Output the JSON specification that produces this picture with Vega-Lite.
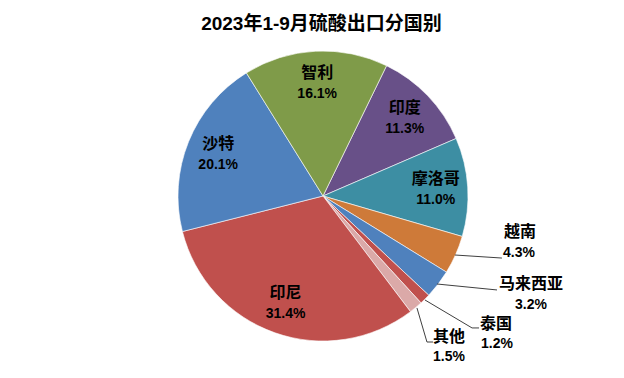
{
  "$schema": "https://vega.github.io/schema/vega-lite/v6.json",
  "width": 624,
  "height": 378,
  "autosize": {"type": "none"},
  "padding": 0,
  "background": "#ffffff",
  "title": {"text": "2023年1-9月硫酸出口分国别", "font": "Liberation Sans, Noto Sans CJK SC", "fontSize": 19, "fontWeight": "bold", "color": "#000000", "anchor": "middle", "frame": "group", "offset": 0, "baseline": "alphabetic", "dx": 9.5, "dy": 49},
  "data": {"values": [
    {"country": "印度", "share": 0.113},
    {"country": "摩洛哥", "share": 0.110},
    {"country": "越南", "share": 0.043},
    {"country": "马来西亚", "share": 0.032},
    {"country": "泰国", "share": 0.012},
    {"country": "其他", "share": 0.015},
    {"country": "印尼", "share": 0.314},
    {"country": "沙特", "share": 0.201},
    {"country": "智利", "share": 0.161}
  ]},
  "transform": [{"window": [{"op": "row_number", "as": "idx"}]}],
  "config": {"view": {"stroke": null}, "axis": {"disable": true}, "legend": {"disable": true}},
  "layer": [
    {
      "mark": {"type": "arc", "outerRadius": 145, "stroke": "#ffffff", "strokeWidth": 0.6},
      "encoding": {
        "theta": {"field": "share", "type": "quantitative", "stack": true, "scale": {"range": [0.4538, 6.737]}},
        "order": {"field": "idx", "type": "quantitative"},
        "color": {"field": "country", "type": "nominal", "legend": null,
          "scale": {"domain": ["印度","摩洛哥","越南","马来西亚","泰国","其他","印尼","沙特","智利"],
                    "range": ["#685088","#3D8EA3","#CE7A39","#4F81BD","#C0504D","#DBA9A8","#C0504D","#4F81BD","#7F9B49"]}},
        "x": {"datum": 0, "type": "quantitative", "axis": null, "scale": {"domain": [-2.22759, 2.07586], "nice": false, "zero": false}},
        "y": {"datum": 0, "type": "quantitative", "axis": null, "scale": {"domain": [-1.25517, 1.35172], "nice": false, "zero": false}}
      }
    },
    {
      "mark": {"type": "text", "radius": 113, "dy": -10, "font": "Noto Sans CJK SC", "fontSize": 16, "fontWeight": "bold", "color": "#000000"},
      "encoding": {
        "theta": {"field": "share", "type": "quantitative", "stack": true},
        "order": {"field": "idx", "type": "quantitative"},
        "detail": {"field": "country", "type": "nominal"},
        "x": {"datum": 0, "type": "quantitative"},
        "y": {"datum": 0, "type": "quantitative"},
        "text": {"field": "country", "type": "nominal"},
        "opacity": {"condition": {"test": "datum.share < 0.05", "value": 0}, "value": 1}
      }
    },
    {
      "mark": {"type": "text", "radius": 113, "dy": 11, "font": "Liberation Sans", "fontSize": 14, "fontWeight": "bold", "color": "#000000"},
      "encoding": {
        "theta": {"field": "share", "type": "quantitative", "stack": true},
        "order": {"field": "idx", "type": "quantitative"},
        "detail": {"field": "country", "type": "nominal"},
        "x": {"datum": 0, "type": "quantitative"},
        "y": {"datum": 0, "type": "quantitative"},
        "text": {"field": "share", "type": "quantitative", "format": ".1%"},
        "opacity": {"condition": {"test": "datum.share < 0.05", "value": 0}, "value": 1}
      }
    },
    {
      "transform": [{"filter": "datum.country === '越南'"}],
      "mark": {"type": "text", "font": "Noto Sans CJK SC", "fontSize": 16, "fontWeight": "bold", "color": "#000000"},
      "encoding": {"x": {"datum": 1.359, "type": "quantitative"}, "y": {"datum": -0.248, "type": "quantitative"}, "text": {"field": "country", "type": "nominal"}}
    },
    {
      "transform": [{"filter": "datum.country === '越南'"}],
      "mark": {"type": "text", "font": "Liberation Sans", "fontSize": 14, "fontWeight": "bold", "color": "#000000"},
      "encoding": {"x": {"datum": 1.352, "type": "quantitative"}, "y": {"datum": -0.393, "type": "quantitative"}, "text": {"field": "share", "type": "quantitative", "format": ".1%"}}
    },
    {
      "transform": [{"filter": "datum.country === '马来西亚'"}],
      "mark": {"type": "text", "font": "Noto Sans CJK SC", "fontSize": 16, "fontWeight": "bold", "color": "#000000"},
      "encoding": {"x": {"datum": 1.434, "type": "quantitative"}, "y": {"datum": -0.607, "type": "quantitative"}, "text": {"field": "country", "type": "nominal"}}
    },
    {
      "transform": [{"filter": "datum.country === '马来西亚'"}],
      "mark": {"type": "text", "font": "Liberation Sans", "fontSize": 14, "fontWeight": "bold", "color": "#000000"},
      "encoding": {"x": {"datum": 1.434, "type": "quantitative"}, "y": {"datum": -0.752, "type": "quantitative"}, "text": {"field": "share", "type": "quantitative", "format": ".1%"}}
    },
    {
      "transform": [{"filter": "datum.country === '泰国'"}],
      "mark": {"type": "text", "font": "Noto Sans CJK SC", "fontSize": 16, "fontWeight": "bold", "color": "#000000"},
      "encoding": {"x": {"datum": 1.193, "type": "quantitative"}, "y": {"datum": -0.883, "type": "quantitative"}, "text": {"field": "country", "type": "nominal"}}
    },
    {
      "transform": [{"filter": "datum.country === '泰国'"}],
      "mark": {"type": "text", "font": "Liberation Sans", "fontSize": 14, "fontWeight": "bold", "color": "#000000"},
      "encoding": {"x": {"datum": 1.2, "type": "quantitative"}, "y": {"datum": -1.021, "type": "quantitative"}, "text": {"field": "share", "type": "quantitative", "format": ".1%"}}
    },
    {
      "transform": [{"filter": "datum.country === '其他'"}],
      "mark": {"type": "text", "font": "Noto Sans CJK SC", "fontSize": 16, "fontWeight": "bold", "color": "#000000"},
      "encoding": {"x": {"datum": 0.869, "type": "quantitative"}, "y": {"datum": -0.972, "type": "quantitative"}, "text": {"field": "country", "type": "nominal"}}
    },
    {
      "transform": [{"filter": "datum.country === '其他'"}],
      "mark": {"type": "text", "font": "Liberation Sans", "fontSize": 14, "fontWeight": "bold", "color": "#000000"},
      "encoding": {"x": {"datum": 0.869, "type": "quantitative"}, "y": {"datum": -1.11, "type": "quantitative"}, "text": {"field": "share", "type": "quantitative", "format": ".1%"}}
    },
    {
      "transform": [{"filter": "datum.country === '越南'"}],
      "mark": {"type": "rule", "color": "#404040", "strokeWidth": 1},
      "encoding": {"x": {"datum": 0.91, "type": "quantitative"}, "y": {"datum": -0.407, "type": "quantitative"}, "x2": {"datum": 1.234}, "y2": {"datum": -0.428}}
    },
    {
      "transform": [{"filter": "datum.country === '马来西亚'"}],
      "mark": {"type": "rule", "color": "#404040", "strokeWidth": 1},
      "encoding": {"x": {"datum": 0.786, "type": "quantitative"}, "y": {"datum": -0.607, "type": "quantitative"}, "x2": {"datum": 1.2}, "y2": {"datum": -0.648}}
    },
    {
      "transform": [{"filter": "datum.country === '泰国'"}],
      "mark": {"type": "rule", "color": "#404040", "strokeWidth": 1},
      "encoding": {"x": {"datum": 0.703, "type": "quantitative"}, "y": {"datum": -0.717, "type": "quantitative"}, "x2": {"datum": 1.028}, "y2": {"datum": -0.91}}
    },
    {
      "transform": [{"filter": "datum.country === '泰国'"}],
      "mark": {"type": "rule", "color": "#404040", "strokeWidth": 1},
      "encoding": {"x": {"datum": 1.028, "type": "quantitative"}, "y": {"datum": -0.91, "type": "quantitative"}, "x2": {"datum": 1.076}, "y2": {"datum": -0.91}}
    },
    {
      "transform": [{"filter": "datum.country === '其他'"}],
      "mark": {"type": "rule", "color": "#404040", "strokeWidth": 1},
      "encoding": {"x": {"datum": 0.648, "type": "quantitative"}, "y": {"datum": -0.772, "type": "quantitative"}, "x2": {"datum": 0.717}, "y2": {"datum": -1.007}}
    },
    {
      "transform": [{"filter": "datum.country === '其他'"}],
      "mark": {"type": "rule", "color": "#404040", "strokeWidth": 1},
      "encoding": {"x": {"datum": 0.717, "type": "quantitative"}, "y": {"datum": -1.007, "type": "quantitative"}, "x2": {"datum": 0.759}, "y2": {"datum": -1.007}}
    }
  ]
}
